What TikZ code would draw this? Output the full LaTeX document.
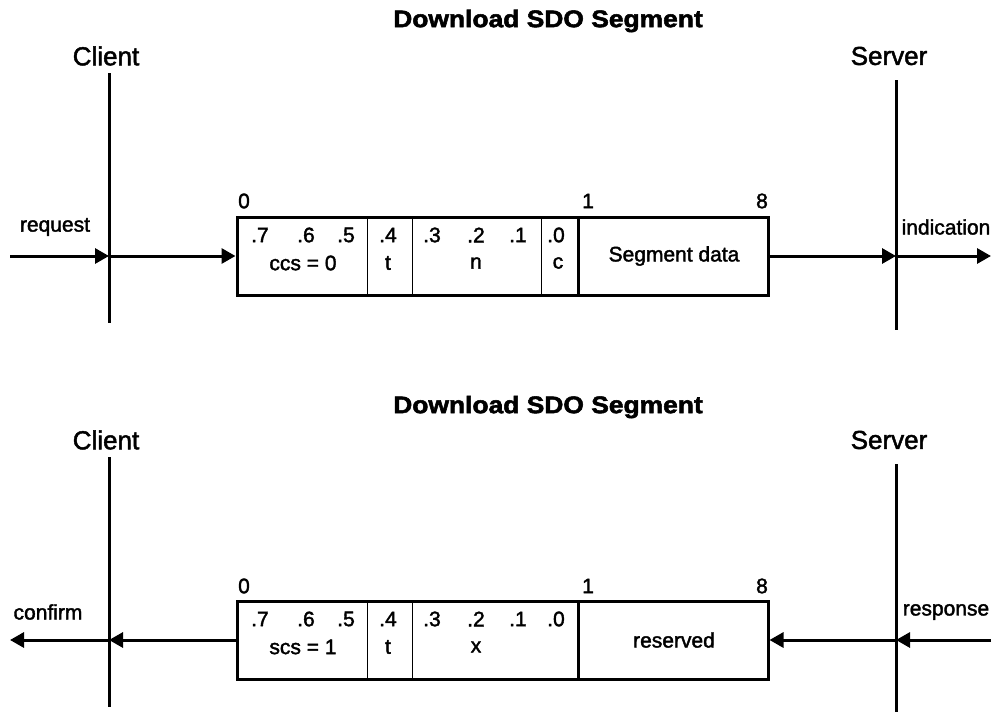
\documentclass[tikz,border=0pt]{standalone}
\usepackage{fontspec}
\setmainfont{Liberation Sans}
\newfontfamily\lblfont{Liberation Sans}[FakeBold=1.8]
\newfontfamily\ttlfont{Liberation Sans Bold}[FakeBold=2.2,FakeStretch=1.1]
\usetikzlibrary{arrows.meta}
\tikzset{
  lbl/.style={inner sep=0pt, font=\lblfont\fontsize{21}{25}\selectfont},
  big/.style={inner sep=0pt, font=\lblfont\fontsize{26}{30}\selectfont},
  ttl/.style={inner sep=0pt, font=\ttlfont\fontsize{24}{30}\selectfont},
  life/.style={line width=3pt},
  frame/.style={draw, line width=3pt, inner sep=0pt, minimum width=531pt, minimum height=78pt},
  thin/.style={line width=1pt},
  thick/.style={line width=3pt},
  msg/.style={line width=3pt, -{Triangle[length=14pt,width=15pt]}}
}
\begin{document}
\begin{tikzpicture}[x=1pt,y=-1pt]
\useasboundingbox (0,0) rectangle (994,712);
% ---------- top ----------
\node[ttl] (t1) at (548,21) {Download SDO Segment};
\node[big] (cl1) at (106,56) {Client};
\node[big] (sv1) at (889,56) {Server};
\coordinate (c1t) at (109,73); \coordinate (c1b) at (109,323);
\coordinate (s1t) at (896,80); \coordinate (s1b) at (896,330);
\draw[life] (c1t) -- (c1b);
\draw[life] (s1t) -- (s1b);
\node[frame] (box1) at (502.5,256) {};
\draw[thin] (367,217) -- (367,295);
\draw[thin] (412,217) -- (412,295);
\draw[thin] (541,217) -- (541,295);
\draw[thick] (578,217) -- (578,295);
\node[lbl] (z1) at (244,201) {0};
\node[lbl] (o1) at (588,201) {1};
\node[lbl] (e1) at (762,201) {8};
\node[lbl] (a7) at (260,235) {.7};
\node[lbl] (a6) at (306,235) {.6};
\node[lbl] (a5) at (346,235) {.5};
\node[lbl] (a4) at (388,235) {.4};
\node[lbl] (a3) at (432,235) {.3};
\node[lbl] (a2) at (476,235) {.2};
\node[lbl] (a1) at (518,235) {.1};
\node[lbl] (a0) at (556,235) {.0};
\node[lbl] (ccs) at (303,263) {ccs = 0};
\node[lbl] (at) at (388,263) {t};
\node[lbl] (an) at (476,263) {n};
\node[lbl] (ac) at (558,263) {c};
\node[lbl] (sd) at (674,256) {Segment data};
\node[lbl] (req) at (55,227) {request};
\node[lbl] (ind) at (946,227) {indication};
\coordinate (in1) at (10,256);
\coordinate (c1m) at (109,256);
\coordinate (s1m) at (896,256);
\coordinate (out1) at (991,256);
\draw[msg] (in1) -- (c1m);
\draw[msg] (c1m) -- (box1.west);
\draw[msg] (box1.east) -- (s1m);
\draw[msg] (s1m) -- (out1);
% ---------- bottom ----------
\node[ttl] (t2) at (548,407) {Download SDO Segment};
\node[big] (cl2) at (106,440) {Client};
\node[big] (sv2) at (889,440) {Server};
\coordinate (c2t) at (109,457); \coordinate (c2b) at (109,707);
\coordinate (s2t) at (896,464); \coordinate (s2b) at (896,712);
\draw[life] (c2t) -- (c2b);
\draw[life] (s2t) -- (s2b);
\node[frame] (box2) at (502.5,640) {};
\draw[thin] (367,601) -- (367,679);
\draw[thin] (412,601) -- (412,679);
\draw[thick] (578,601) -- (578,679);
\node[lbl] (z2) at (244,586) {0};
\node[lbl] (o2) at (588,586) {1};
\node[lbl] (e2) at (762,586) {8};
\node[lbl] (b7) at (260,619) {.7};
\node[lbl] (b6) at (306,619) {.6};
\node[lbl] (b5) at (346,619) {.5};
\node[lbl] (b4) at (388,619) {.4};
\node[lbl] (b3) at (432,619) {.3};
\node[lbl] (b2) at (476,619) {.2};
\node[lbl] (b1) at (518,619) {.1};
\node[lbl] (b0) at (556,619) {.0};
\node[lbl] (scs) at (303,647) {scs = 1};
\node[lbl] (bt) at (388,647) {t};
\node[lbl] (bx) at (476,647) {x};
\node[lbl] (rs) at (674,640) {reserved};
\node[lbl] (cnf) at (48,612) {confirm};
\node[lbl] (rsp) at (946,612) {response};
\coordinate (in2) at (991,640);
\coordinate (s2m) at (896,640);
\coordinate (c2m) at (109,640);
\coordinate (out2) at (10,640);
\draw[msg] (in2) -- (s2m);
\draw[msg] (s2m) -- (box2.east);
\draw[msg] (box2.west) -- (c2m);
\draw[msg] (c2m) -- (out2);
\end{tikzpicture}
\end{document}
